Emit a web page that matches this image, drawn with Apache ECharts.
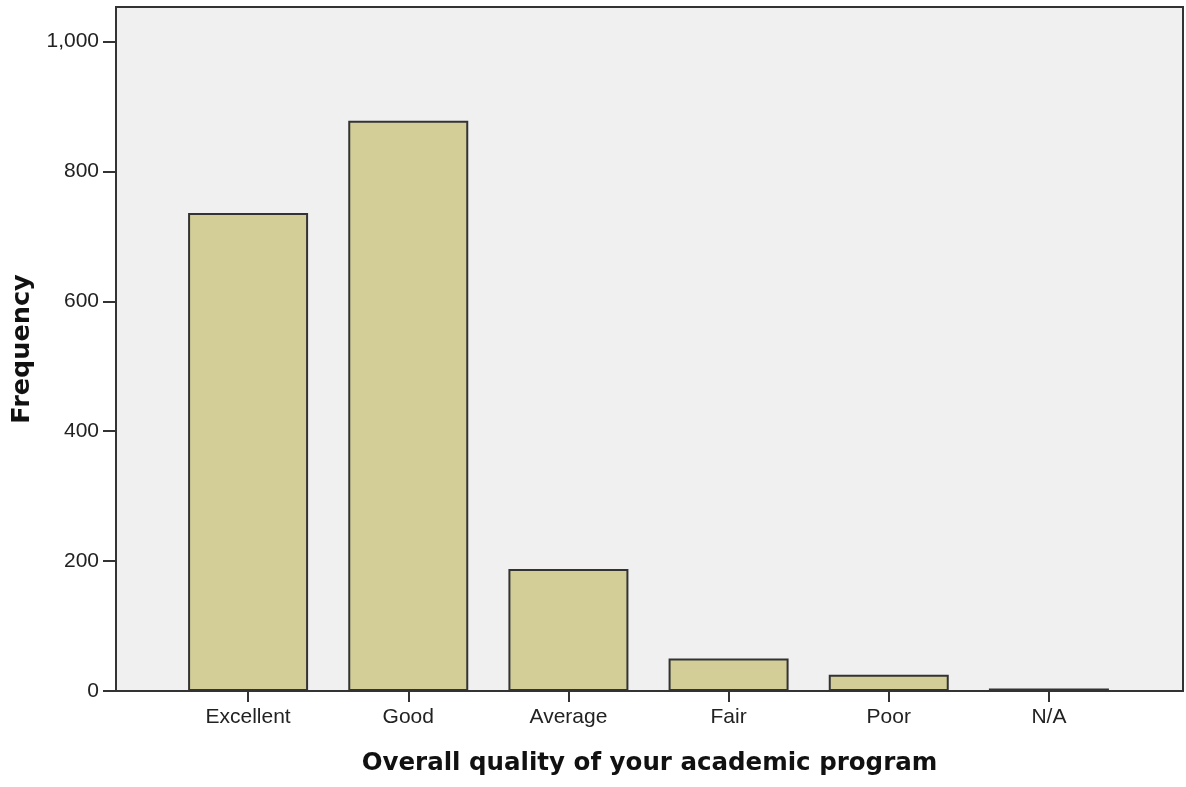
<!DOCTYPE html>
<html>
<head>
<meta charset="utf-8">
<script src="https://cdn.jsdelivr.net/npm/echarts@6/dist/echarts.min.js"></script>
<style>
html,body{margin:0;padding:0;background:#fff;}
#chart{width:1186px;height:787px;}
</style>
</head>
<body>
<div id="chart"></div>
<script>
const categories = ['Excellent', 'Good', 'Average', 'Fair', 'Poor', 'N/A'];
const frequencies = [736, 878, 188, 50, 25, 4];
const yTicks = [0, 200, 400, 600, 800, 1000];
const xTitle = 'Overall quality of your academic program';
const yTitle = 'Frequency';

const chart = echarts.init(document.getElementById('chart'), null, {renderer: 'canvas'});
const labelFont = {fontFamily: '"Liberation Sans", Arial, sans-serif', fontSize: 21, color: '#222'};
const titleFontX = {fontFamily: '"DejaVu Sans", Verdana, sans-serif', fontSize: 24.5, fontWeight: 'bold', color: '#111'};
const titleFontY = {fontFamily: '"DejaVu Sans", Verdana, sans-serif', fontSize: 25.5, fontWeight: 'bold', color: '#111'};
const axisLine = {show: true, lineStyle: {color: '#333', width: 2}};

chart.setOption({
  animation: false,
  backgroundColor: '#ffffff',
  grid: [
    {left: 116, right: 3, top: 7, bottom: 96, show: true, backgroundColor: '#f0f0f0', borderColor: '#333', borderWidth: 2},
    {left: 168, right: 57, top: 7, bottom: 96}
  ],
  xAxis: [
    {
      gridIndex: 0, type: 'value', min: 0, max: 1,
      axisLine: axisLine, axisTick: {show: false}, axisLabel: {show: false}, splitLine: {show: false},
      name: xTitle, nameLocation: 'middle', nameGap: 60, nameTextStyle: titleFontX
    },
    {
      gridIndex: 1, type: 'category', data: categories, boundaryGap: true,
      axisLine: {show: false},
      axisTick: {show: true, alignWithLabel: true, length: 11, lineStyle: {color: '#333', width: 2}},
      axisLabel: Object.assign({margin: 16}, labelFont),
      splitLine: {show: false}
    }
  ],
  yAxis: [
    {
      gridIndex: 0, type: 'value', min: 0, max: 1053, interval: 200,
      axisLine: axisLine,
      axisTick: {show: true, length: 13, customValues: yTicks, lineStyle: {color: '#333', width: 2}},
      axisLabel: Object.assign({margin: 17, customValues: yTicks,
        formatter: v => v.toLocaleString('en-US')}, labelFont),
      splitLine: {show: false},
      name: yTitle, nameLocation: 'middle', nameGap: 81, nameTextStyle: titleFontY
    },
    {
      gridIndex: 1, type: 'value', min: 0, max: 1053, show: false, splitLine: {show: false}
    }
  ],
  series: [{
    type: 'bar', xAxisIndex: 1, yAxisIndex: 1,
    data: frequencies, barWidth: 120,
    itemStyle: {color: '#d3ce98', borderColor: '#333', borderWidth: 2}
  }]
});
</script>
</body>
</html>
